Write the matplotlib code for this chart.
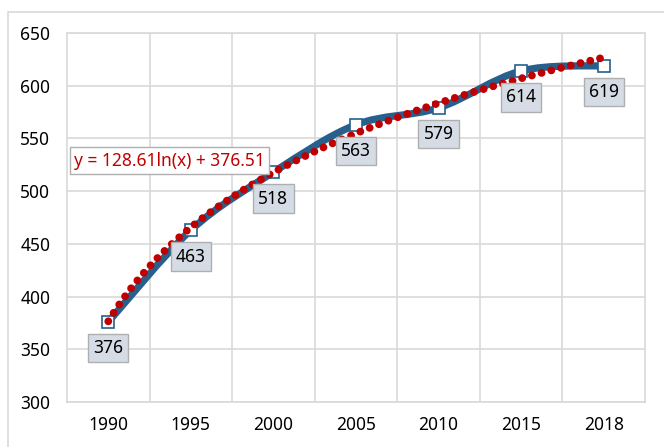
import numpy as np
import matplotlib.pyplot as plt
from matplotlib.path import Path
from matplotlib.patches import PathPatch, Rectangle

plt.rcParams['font.family'] = ['Noto Sans', 'DejaVu Sans']

years = ['1990', '1995', '2000', '2005', '2010', '2015', '2018']
values = [376, 463, 518, 563, 579, 614, 619]
# trendline as shown on the chart: y = a*ln(x) + b, x = 1..7
trend_a = 128.61
trend_b = 376.51
trend_label = 'y = 128.61ln(x) + 376.51'

line_color = '#27608C'
trend_color = '#C00000'
grid_color = '#D9D9D9'

W, H = 664, 447
fig = plt.figure(figsize=(W / 100, H / 100), dpi=100)
ax = fig.add_axes([67 / W, 45 / H, 578 / W, 369 / H])

x = np.arange(len(years))
y = np.array(values, dtype=float)

# smoothed line (Catmull-Rom style bezier, like Excel's smoothed line)
pts = np.column_stack([x, y])
verts = [pts[0]]
codes = [Path.MOVETO]
for i in range(len(pts) - 1):
    p0 = pts[i - 1] if i > 0 else pts[i]
    p1 = pts[i]
    p2 = pts[i + 1]
    p3 = pts[i + 2] if i + 2 < len(pts) else pts[i + 1]
    c1 = p1 + (p2 - p0) / 6
    c2 = p2 - (p3 - p1) / 6
    verts += [c1, c2, p2]
    codes += [Path.CURVE4] * 3
ax.add_patch(PathPatch(Path(verts, codes), facecolor='none', edgecolor=line_color,
                       lw=5.2, capstyle='butt', zorder=3))

ax.plot(x, y, ls='none', marker='s', ms=8.5, mfc='white', mec=line_color,
        mew=1.2, zorder=4)

# logarithmic trendline
t = np.linspace(1, len(years), 200)
ax.plot(t - 1, trend_a * np.log(t) + trend_b, color=trend_color, lw=5.6,
        ls=(0, (0.01, 1.28)), dash_capstyle='round', zorder=5)

for xi, yi in zip(x, values):
    ax.annotate(str(yi), (xi, yi), xytext=(0, -19), textcoords='offset points',
                ha='center', va='center', fontsize=12.5, color='black', zorder=6,
                bbox=dict(boxstyle='square,pad=0.3', fc='#D6DCE5', ec='#AFAFAF', lw=1))

fig.text(74 / W, 1 - 160.5 / H, trend_label, color=trend_color, fontsize=12.5,
         ha='left', va='center',
         bbox=dict(boxstyle='square,pad=0.25', fc='white', ec='#AFAFAF', lw=1))

ax.set_xlim(-0.5, len(years) - 0.5)
ax.set_ylim(300, 650)
ax.set_yticks(np.arange(300, 651, 50))
ax.set_xticks(x)
ax.set_xticklabels(years)
ax.set_xticks(np.arange(0.5, len(years) - 1, 1), minor=True)
ax.grid(True, which='minor', axis='x', color=grid_color, lw=1.2)
ax.grid(True, which='major', axis='y', color=grid_color, lw=1.2)
ax.set_axisbelow(True)
ax.tick_params(axis='both', which='both', length=0, labelsize=12.5, colors='black')
ax.tick_params(axis='y', pad=12)
ax.tick_params(axis='x', pad=10)
for s in ax.spines.values():
    s.set_color(grid_color)
    s.set_linewidth(1.2)

fig.patches.append(Rectangle((8 / W, -0.1), 1.0, 1.1 - 12 / H, transform=fig.transFigure,
                             fill=False, ec=grid_color, lw=1.2))

fig.savefig('out.png', dpi=100)
